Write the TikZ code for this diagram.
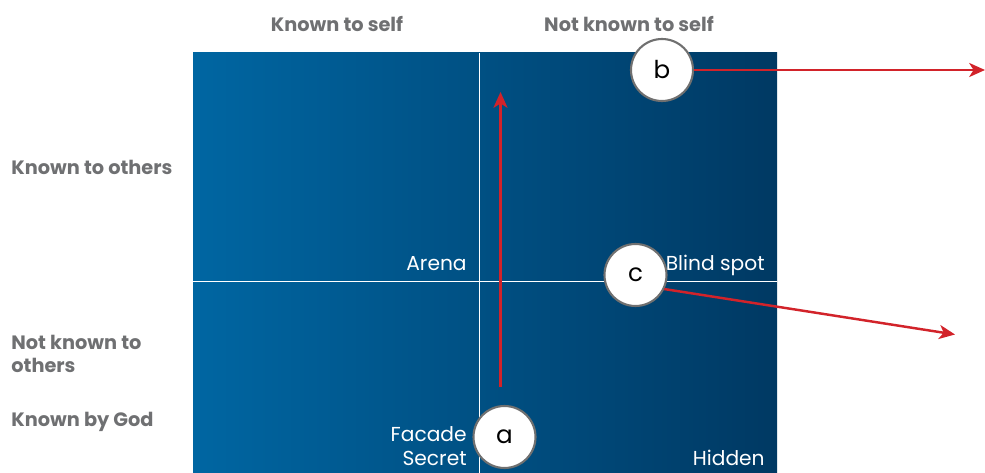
\documentclass[tikz,border=0pt]{standalone}
\usepackage{fontspec}
\setmainfont{Poppins}
\usetikzlibrary{arrows.meta}
\definecolor{paneleft}{HTML}{0066A2}
\definecolor{paneright}{HTML}{003963}
\definecolor{headgray}{HTML}{6F7072}
\definecolor{rimgray}{HTML}{707070}
\definecolor{pointred}{HTML}{D2232A}
\tikzset{
  head/.style={inner sep=0pt, text=headgray, font=\bfseries\fontsize{11}{13.6}\selectfont},
  pane/.style={inner sep=0pt, text=white, anchor=base east, font=\fontsize{11.5}{13}\selectfont},
  spot/.style={circle, draw=rimgray, line width=1.2pt, fill=white, minimum size=1.24cm, inner sep=0pt, font=\fontsize{14}{16}\selectfont},
  pointer/.style={draw=pointred, line width=1.4pt, -{Stealth[length=9pt, width=8pt, inset=2.5pt]}}
}
\begin{document}
\begin{tikzpicture}[x=0.02cm, y=-0.02cm]
    \useasboundingbox (0,0) rectangle (985,473);
    \shade[left color=paneleft, right color=paneright] (193,53) rectangle (777,473);
    \draw[white, line width=0.6pt] (479.5,53) -- (479.5,473);
    \draw[white, line width=0.6pt] (193,281.5) -- (777,281.5);
    \node[head, anchor=base] (self) at (337,31.5) {Known to self};
    \node[head, anchor=base] (noself) at (629,31.5) {Not known to self};
    \node[head, anchor=base west] (others) at (11,174) {Known to others};
    \node[head, anchor=base west, align=left] (noothers) at (11,373) {Not known to\\others};
    \node[head, anchor=base west] (god) at (11,426) {Known by God};
    \node[pane] (arena) at (467,270.5) {Arena};
    \node[pane] (blind) at (765,270.5) {Blind spot};
    \node[pane] (facade) at (467,441) {Facade};
    \node[pane] (secret) at (467,465) {Secret};
    \node[pane] (hidden) at (765,465) {Hidden};
    \coordinate (a-tail) at (500.5,387);
    \coordinate (a-tip) at (500.5,92);
    \coordinate (b-tip) at (985,70);
    \coordinate (c-tip) at (955,334.5);
    \draw[pointer] (a-tail) -- (a-tip);
    \node[spot] (a) at (504.5,437) {a};
    \node[spot] (b) at (662,70) {b};
    \node[spot] (c) at (635.5,275) {c};
    \draw[pointer] (b) -- (b-tip);
    \draw[pointer] (c.-26) -- (c-tip);
\end{tikzpicture}
\end{document}
